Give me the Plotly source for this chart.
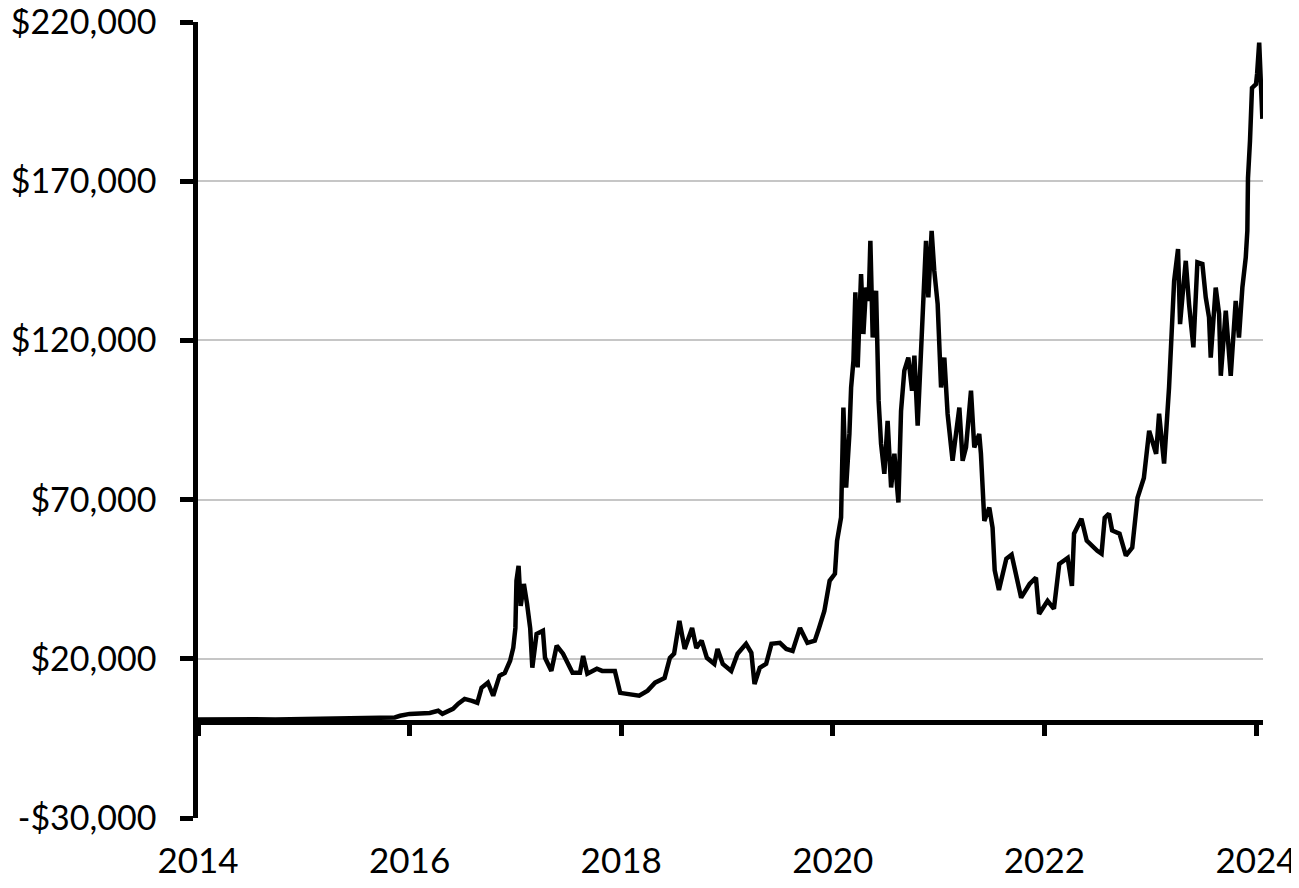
import plotly.graph_objects as go

# Values (decimal year, dollar value)
years = [
    2014.00, 2014.16, 2014.35, 2014.54, 2014.73, 2014.92, 2015.11, 2015.29, 2015.48, 2015.67, 2015.86, 2015.91,
    2016.00, 2016.19, 2016.27, 2016.31, 2016.41, 2016.46, 2016.52, 2016.59, 2016.64, 2016.68, 2016.74, 2016.79,
    2016.85, 2016.90, 2016.95, 2016.98,
    2017.00, 2017.01, 2017.03, 2017.05, 2017.08, 2017.11, 2017.14, 2017.16, 2017.20, 2017.26, 2017.28, 2017.34,
    2017.39, 2017.45, 2017.51, 2017.54, 2017.61, 2017.64, 2017.68, 2017.77, 2017.82, 2017.94, 2017.99,
    2018.05, 2018.11, 2018.17, 2018.25, 2018.32, 2018.41, 2018.46, 2018.50, 2018.55, 2018.60, 2018.67, 2018.71,
    2018.76, 2018.81, 2018.88, 2018.91, 2018.96,
    2019.04, 2019.10, 2019.18, 2019.23, 2019.26, 2019.31, 2019.37, 2019.42, 2019.50, 2019.56, 2019.62, 2019.69,
    2019.76, 2019.83, 2019.87, 2019.92, 2019.97,
    2020.020, 2020.040, 2020.078, 2020.100, 2020.126, 2020.157, 2020.173, 2020.195, 2020.213, 2020.235, 2020.267,
    2020.289, 2020.314, 2020.339, 2020.355, 2020.377, 2020.409, 2020.433, 2020.456, 2020.487, 2020.518, 2020.551,
    2020.582, 2020.620, 2020.645, 2020.676, 2020.714, 2020.749, 2020.771, 2020.802, 2020.843, 2020.881, 2020.903,
    2020.934, 2020.959, 2020.991,
    2021.023, 2021.054, 2021.085, 2021.132, 2021.196, 2021.227, 2021.259, 2021.306, 2021.337, 2021.384, 2021.400,
    2021.432, 2021.479, 2021.510, 2021.53, 2021.57, 2021.64, 2021.69, 2021.78, 2021.86, 2021.92, 2021.95,
    2022.03, 2022.09, 2022.14, 2022.22, 2022.26, 2022.28, 2022.35, 2022.40, 2022.50, 2022.54, 2022.57, 2022.61,
    2022.64, 2022.71, 2022.77, 2022.83, 2022.88, 2022.94, 2022.99,
    2023.056, 2023.084, 2023.131, 2023.178, 2023.226, 2023.263, 2023.282, 2023.304, 2023.336, 2023.367, 2023.408,
    2023.446, 2023.493, 2023.525, 2023.556, 2023.572, 2023.619, 2023.651, 2023.667, 2023.714, 2023.761, 2023.808,
    2023.839, 2023.871, 2023.903, 2023.918, 2023.924, 2023.943, 2023.962,
    2024.00, 2024.01, 2024.03, 2024.05, 2024.06,
]

values = [
    900, 1000, 900, 1000, 900, 1000, 1100, 1200, 1500, 1500, 1600, 2100,
    2700, 3000, 3700, 2700, 4300, 5900, 7400, 6800, 6200, 10900, 12500, 8400,
    14700, 15600, 19400, 23500,
    29700, 44500, 49200, 36600, 43500, 37300, 29500, 17200, 27800, 28800, 20300, 16200,
    24100, 21600, 17200, 15600, 15600, 20900, 15300, 16900, 16200, 16200, 9300,
    9000, 9000, 8400, 10000, 12500, 14000, 20300, 21600, 31900, 23100, 29700, 23400,
    25700, 20300, 18400, 23100, 18400,
    16200, 21600, 24700, 21900, 12100, 17200, 18400, 24700, 25000, 23100, 22500, 29700,
    25000, 25700, 29700, 35000, 44500,
    46700, 57000, 64400, 98900, 73800, 90700, 105200, 113600, 135100, 111500, 140800,
    122000, 136600, 132400, 151300, 120900, 135600, 101000, 87500, 78100, 94700, 73800,
    84400, 69100, 97900, 110500, 114600, 104200, 115200, 93200, 127200, 151300, 133500,
    154400, 141900, 131400,
    105200, 114600, 96900, 82200, 98900, 82200, 86400, 104200, 86400, 90600, 84400,
    63300, 67500, 61200, 47800, 41600, 51400, 52700, 39200, 43500, 45500, 34100,
    38200, 35700, 49800, 51700, 42900, 59300, 64000, 57100, 53900, 53000, 64300, 65600,
    60300, 59300, 52400, 54900, 70600, 76800, 91600,
    84400, 97000, 81300, 105200, 138700, 148700, 125100, 133500, 145000, 131400, 117800,
    144500, 144000, 133500, 127200, 114600, 136600, 128300, 108900, 129300, 108900, 132400,
    120900, 136600, 146000, 154400, 171000, 182700, 199300,
    200500, 203700, 213500, 199300, 189600,
]

x_ticks = [2014, 2016, 2018, 2020, 2022, 2024]
x_labels = ['2014', '2016', '2018', '2020', '2022', '2024']
y_ticks = [-30000, 20000, 70000, 120000, 170000, 220000]
y_labels = ['-$30,000', '$20,000', '$70,000', '$120,000', '$170,000', '$220,000']

x_range = [2014, 2024.066]
y_range = [-30000, 220000]

font_name = "Lato, 'Open Sans', sans-serif"

fig = go.Figure()

fig.add_trace(go.Scatter(
    x=years, y=values,
    mode='lines',
    line=dict(color='black', width=4.5),
    hovertemplate='%{x:.2f}: $%{y:,}<extra></extra>',
    showlegend=False,
))

# invisible copy on the second x axis so the zero-line axis gets drawn
fig.add_trace(go.Scatter(
    x=years, y=values,
    xaxis='x2',
    mode='lines',
    line=dict(color='rgba(0,0,0,0)', width=0),
    hoverinfo='skip',
    showlegend=False,
))

# page body has an 8px margin, so the figure is a bit smaller than the window
fig.update_layout(
    width=1291,
    height=872,
    margin=dict(l=190, r=36, t=14, b=62),
    plot_bgcolor='white',
    paper_bgcolor='white',
    font=dict(family=font_name, size=35, color='black'),
    xaxis=dict(
        range=x_range,
        tickvals=x_ticks,
        ticktext=x_labels,
        showline=False,
        showgrid=False,
        zeroline=False,
        ticks='',
        ticklabelstandoff=19,
        ticklabeloverflow='allow',
        tickfont=dict(size=35),
        automargin=False,
    ),
    xaxis2=dict(
        range=x_range,
        overlaying='x',
        anchor='free',
        position=(0 - y_range[0]) / (y_range[1] - y_range[0]),
        side='bottom',
        tickvals=x_ticks,
        showticklabels=False,
        showline=True,
        linecolor='black',
        linewidth=4.5,
        ticks='outside',
        ticklen=11,
        tickwidth=4.5,
        tickcolor='black',
        showgrid=False,
        zeroline=False,
        automargin=False,
    ),
    yaxis=dict(
        range=y_range,
        tickvals=y_ticks,
        ticktext=y_labels,
        showline=True,
        linecolor='black',
        linewidth=4.5,
        ticks='outside',
        ticklen=13,
        tickwidth=4.5,
        tickcolor='black',
        showgrid=True,
        gridcolor='#c6c6c6',
        gridwidth=1.5,
        zeroline=False,
        ticklabelstandoff=17,
        ticklabeloverflow='allow',
        tickfont=dict(size=34),
        automargin=False,
    ),
)

fig.write_html("out.html")
